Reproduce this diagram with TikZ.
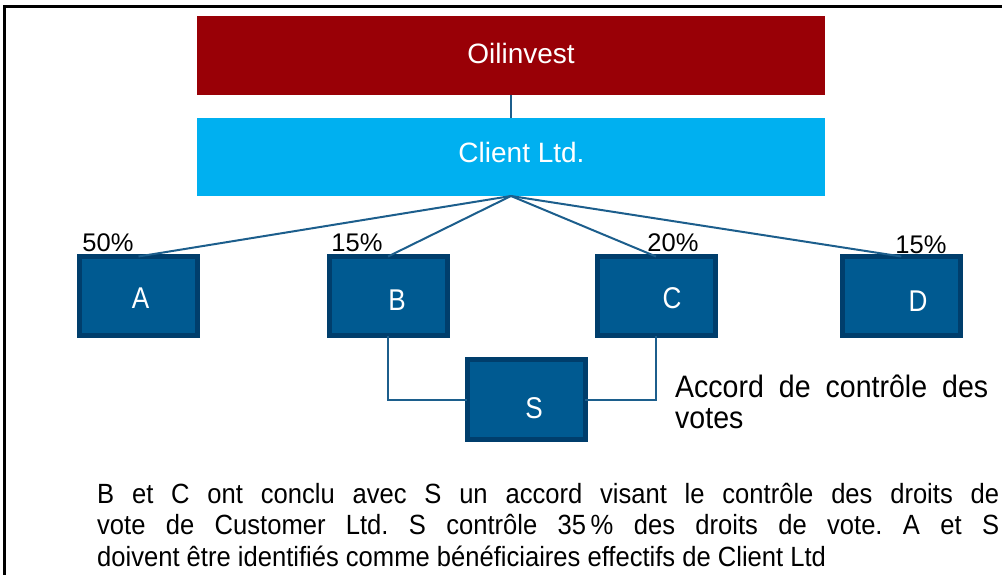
\documentclass[tikz,border=0pt]{standalone}
\usepackage{fontspec}
\setmainfont{Liberation Sans}
\newfontfamily\condfont{Liberation Sans}[FakeStretch=0.87]
\newfontfamily\notefont{Liberation Sans}[FakeStretch=0.92]
\definecolor{oilred}{RGB}{153,0,6}
\definecolor{clientblue}{RGB}{0,176,240}
\definecolor{boxfill}{RGB}{0,90,145}
\definecolor{boxedge}{RGB}{0,62,108}
\definecolor{linkcol}{RGB}{28,94,140}
\frenchspacing
\begin{document}
\begin{tikzpicture}[x=1pt,y=-1pt,
  banner/.style={minimum width=628pt, minimum height=79pt, inner sep=0pt, outer sep=0pt},
  bannertext/.style={text=white, inner sep=0pt, font=\fontsize{28}{32}\selectfont},
  entity/.style={draw=boxedge, fill=boxfill, line width=5pt, minimum width=118pt, minimum height=79pt, inner sep=0pt, outer sep=0pt},
  entlabel/.style={text=white, inner sep=0pt, font=\condfont\fontsize{30}{34}\selectfont},
  pct/.style={inner sep=0pt, font=\fontsize{25.5}{30}\selectfont},
  note/.style={inner sep=0pt, anchor=base west, font=\notefont\fontsize{27.8}{32}\selectfont},
  accnote/.style={inner sep=0pt, anchor=base west, font=\notefont\fontsize{31}{34}\selectfont},
  link/.style={draw=linkcol, line width=2pt},
]
\useasboundingbox (0,0) rectangle (1002,575);
\begin{scope}
  \clip (0,0) rectangle (1002,575);
  \draw[line width=3pt] (4.5,6.3) rectangle (1030,600);
\end{scope}

% banners
\node[banner, fill=oilred] (oil) at (511,55.5) {};
\node[bannertext] (oiltxt) at (521,53) {Oilinvest};
\node[banner, fill=clientblue, minimum height=78pt] (client) at (511,157) {};
\node[bannertext] (clienttxt) at (521.5,152.5) {Client Ltd.};
\draw[link] (oil.south) -- (client.north);

% entities
\node[entity] (A) at (138.5,296) {};
\node[entity] (B) at (388,296) {};
\node[entity] (C) at (656,296) {};
\node[entity] (D) at (901.3,296) {};
\node[entity, minimum height=80pt] (S) at (526.3,399.7) {};

\node[entlabel] (Atxt) at (140.5,298.3) {A};
\node[entlabel] (Btxt) at (397,300) {B};
\node[entlabel] (Ctxt) at (672,298.5) {C};
\node[entlabel] (Dtxt) at (918,301) {D};
\node[entlabel] (Stxt) at (534,408) {S};

% ownership links
\draw[link] (client.south) -- (A.north);
\draw[link] (client.south) -- (B.north);
\draw[link] (client.south) -- (C.north);
\draw[link] (client.south) -- (D.north);

\node[pct] (pA) at (108,243) {50\%};
\node[pct] (pB) at (357,243) {15\%};
\node[pct] (pC) at (673,242.7) {20\%};
\node[pct] (pD) at (921,244.5) {15\%};

% voting agreement links
\draw[link] (B.south) |- (S.west);
\draw[link] (C.south) |- (S.east);

\node[accnote] (acc1) at (675,397.3) {\makebox[313pt][s]{Accord de contrôle des}};
\node[accnote] (acc2) at (675,428) {votes};

% explanation
\node[note] (t1) at (97,503) {\makebox[902pt][s]{B et C ont conclu avec S un accord visant le contrôle des droits de}};
\node[note] (t2) at (97,534.5) {\makebox[902pt][s]{vote de Customer Ltd. S contrôle 35\,\% des droits de vote. A et S}};
\node[note] (t3) at (97,566) {doivent être identifiés comme bénéficiaires effectifs de Client Ltd};
\end{tikzpicture}
\end{document}
